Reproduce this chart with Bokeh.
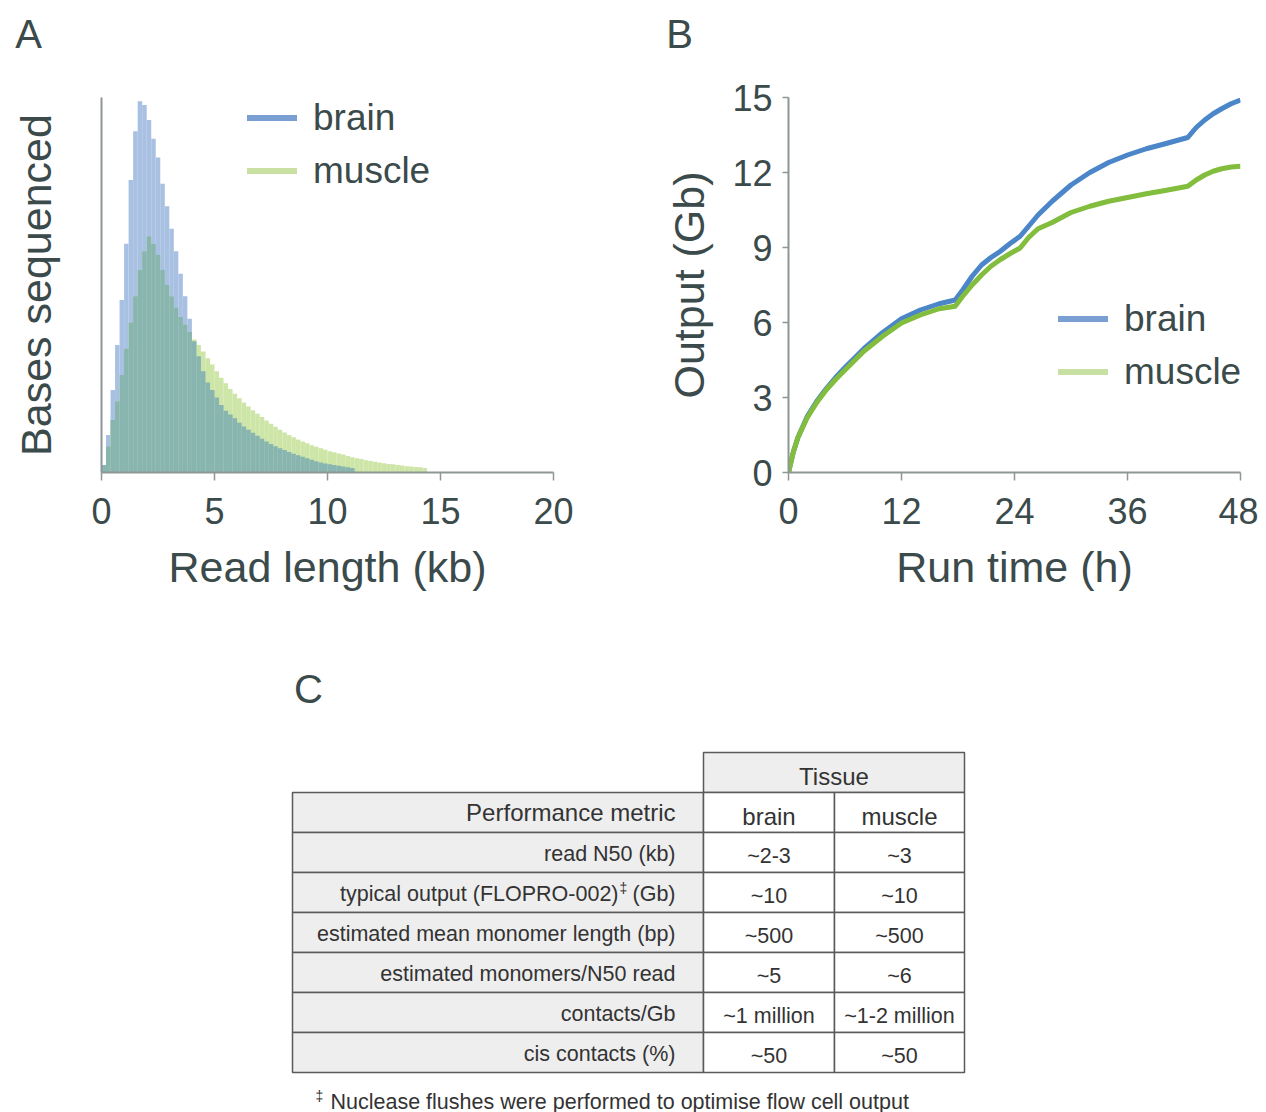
from bokeh.plotting import figure
from bokeh.models import Range1d, Legend, LegendItem, FixedTicker, ColumnDataSource
from bokeh.layouts import column, row
from bokeh.embed import file_html
from bokeh.resources import INLINE
from bokeh.core.properties import value

FONT = "Liberation Sans"
TXT = "#3b4a4a"
AXIS_GREY = "#8e9696"
NAN = float("nan")

# ---------------- Panel A: read length distribution (0.2 kb bins, relative bases) ----------------
read_length_kb = [
    0.1, 0.3, 0.5, 0.7, 0.9, 1.1, 1.3, 1.5, 1.7, 1.9,
    2.1, 2.3, 2.5, 2.7, 2.9, 3.1, 3.3, 3.5, 3.7, 3.9,
    4.1, 4.3, 4.5, 4.7, 4.9, 5.1, 5.3, 5.5, 5.7, 5.9,
    6.1, 6.3, 6.5, 6.7, 6.9, 7.1, 7.3, 7.5, 7.7, 7.9,
    8.1, 8.3, 8.5, 8.7, 8.9, 9.1, 9.3, 9.5, 9.7, 9.9,
    10.1, 10.3, 10.5, 10.7, 10.9, 11.1, 11.3, 11.5, 11.7, 11.9,
    12.1, 12.3, 12.5, 12.7, 12.9, 13.1, 13.3, 13.5, 13.7, 13.9,
    14.1, 14.3,
]
brain_bases = [
    2, 10, 22, 34, 46, 61, 78, 91, 99, 98,
    94, 89, 84, 77, 71, 65, 59, 53, 47, 41,
    35, 31, 27, 24, 22, 20, 18, 16.5, 15.5, 14.5,
    13.3, 12.3, 11.4, 10.6, 9.8, 9.0, 8.3, 7.6, 7.0, 6.5,
    6.0, 5.5, 5.0, 4.6, 4.2, 3.8, 3.4, 3.0, 2.7, 2.4,
    2.2, 2.0, 1.8, 1.6, 1.4, 1.2, 0, 0, 0, 0,
    0, 0, 0, 0, 0, 0, 0, 0, 0, 0,
    0, 0,
]
muscle_bases = [
    2, 7, 14, 19, 26, 33, 40, 47, 54, 59,
    63, 61, 58, 54, 50, 47, 44, 41.5, 39.5, 37.5,
    35.5, 34, 32.3, 30.5, 28.8, 27, 25.3, 23.8, 22.3, 21,
    19.8, 18.7, 17.6, 16.6, 15.7, 14.8, 13.9, 13.0, 12.2, 11.4,
    10.7, 10.0, 9.4, 8.8, 8.3, 7.8, 7.3, 6.9, 6.5, 6.1,
    5.7, 5.4, 5.1, 4.8, 4.4, 4.1, 3.8, 3.6, 3.3, 3.1,
    2.9, 2.7, 2.5, 2.3, 2.2, 2.0, 1.9, 1.7, 1.6, 1.5,
    1.4, 1.2,
]
read_ticks = [0, 5, 10, 15, 20]

# ---------------- Panel B: cumulative output ----------------
run_time_h = [0, 0.5, 1, 2, 3, 4, 5, 6, 8, 10, 12, 14, 16, 17.7, 18.5, 19.5, 20.5, 21.5,
              22.5, 23.5, 24.6, 25.5, 26.5, 28, 30, 32, 34, 36, 38, 40, 42.4, 43.3, 44.2,
              45.1, 46, 47, 48]
brain_output_gb = [0, 0.8, 1.4, 2.25, 2.85, 3.35, 3.8, 4.2, 4.95, 5.6, 6.15, 6.5, 6.75, 6.9,
                   7.3, 7.85, 8.3, 8.6, 8.85, 9.15, 9.45, 9.85, 10.3, 10.85, 11.5, 12.0, 12.4,
                   12.7, 12.95, 13.15, 13.4, 13.8, 14.1, 14.35, 14.55, 14.75, 14.9]
muscle_output_gb = [0, 0.8, 1.4, 2.2, 2.8, 3.3, 3.72, 4.1, 4.85, 5.45, 5.98, 6.3, 6.55, 6.65,
                    7.05, 7.5, 7.9, 8.25, 8.52, 8.75, 8.98, 9.4, 9.75, 10.0, 10.4, 10.65, 10.85,
                    11.0, 11.15, 11.28, 11.45, 11.7, 11.9, 12.05, 12.15, 12.22, 12.25]
time_ticks = [0, 12, 24, 36, 48]
output_ticks = [0, 3, 6, 9, 12, 15]

# ---------------- Panel C: table ----------------
panel_letters = ["A", "B", "C"]
tissues = ["brain", "muscle"]
metric_header = "Performance metric"
metrics = ["read N50 (kb)", "typical output (FLOPRO-002)", "estimated mean monomer length (bp)",
           "estimated monomers/N50 read", "contacts/Gb", "cis contacts (%)"]
brain_vals = ["~2-3", "~10", "~500", "~5", "~1 million", "~50"]
muscle_vals = ["~3", "~10", "~500", "~6", "~1-2 million", "~50"]
footnote = "Nuclease flushes were performed to optimise flow cell output"

BRAIN_FILL = "#a8c0e2"
MUSCLE_FILL = "#cde5a6"
OVERLAP_FILL = "#88b5af"
BRAIN_LINE = "#4a86c8"
MUSCLE_LINE = "#82bd3d"
BRAIN_LEG = "#7a9fd2"
MUSCLE_LEG = "#c8e1a2"

PAGE_W = 1258
HEAD_H = 60


def style_axis(ax, ticks, tick_out=8):
    ax.ticker = FixedTicker(ticks=ticks)
    ax.axis_line_color = AXIS_GREY
    ax.axis_line_width = 2
    ax.major_tick_line_color = AXIS_GREY
    ax.major_tick_line_width = 1.5
    ax.major_tick_in = 0
    ax.major_tick_out = tick_out
    ax.minor_tick_line_color = None
    ax.major_label_text_font = FONT
    ax.major_label_text_font_size = "36px"
    ax.major_label_text_color = TXT
    ax.axis_label_text_font = FONT
    ax.axis_label_text_font_size = "43px"
    ax.axis_label_text_font_style = "normal"
    ax.axis_label_text_color = TXT


def make_legend(p, loc):
    r1 = p.line(x=[NAN], y=[NAN], line_color=BRAIN_LEG, line_width=6, line_cap="round")
    r2 = p.line(x=[NAN], y=[NAN], line_color=MUSCLE_LEG, line_width=6, line_cap="round")
    leg = Legend(items=[LegendItem(label="brain", renderers=[r1]),
                        LegendItem(label="muscle", renderers=[r2])],
                 location=loc, glyph_width=50, glyph_height=43, label_standoff=16,
                 spacing=10, padding=0, margin=0, border_line_color=None,
                 background_fill_alpha=0, label_text_font=FONT,
                 label_text_font_size="37px", label_text_color=TXT)
    p.add_layout(leg)


def blank_canvas(w, h):
    p = figure(width=w, height=h, x_range=Range1d(0, w), y_range=Range1d(h, 0),
               output_backend="svg", toolbar_location=None, x_axis_type=None,
               y_axis_type=None, min_border=0)
    p.outline_line_color = None
    p.grid.visible = False
    return p


def txt(p, x, y, s, size, align="center", color="#333333"):
    p.text(x=[x], y=[y], text=[s], text_font=value(FONT), text_font_size=size,
           text_color=color, text_align=align, text_baseline="middle")


# ---------- header strip with panel letters A and B ----------
pH = blank_canvas(PAGE_W, HEAD_H)
txt(pH, 28, 33, panel_letters[0], "40px", color=TXT)
txt(pH, 679, 33, panel_letters[1], "40px", color=TXT)

# ---------- Figure A ----------
pA = figure(width=648, height=628 - HEAD_H, x_range=Range1d(0, 20), y_range=Range1d(0, 100),
            output_backend="svg", toolbar_location=None,
            min_border_left=101, min_border_right=95, min_border_top=97 - HEAD_H,
            min_border_bottom=155)
pA.outline_line_color = None
pA.grid.visible = False
overlap = [min(b, m) for b, m in zip(brain_bases, muscle_bases)]
srcA = ColumnDataSource(dict(x=read_length_kb, brain=brain_bases, muscle=muscle_bases, both=overlap))
pA.vbar(x="x", top="brain", width=0.2, source=srcA, fill_color=BRAIN_FILL, line_color=None)
pA.vbar(x="x", top="muscle", width=0.2, source=srcA, fill_color=MUSCLE_FILL, line_color=None)
pA.vbar(x="x", top="both", width=0.2, source=srcA, fill_color=OVERLAP_FILL, line_color=None)
style_axis(pA.xaxis[0], read_ticks)
style_axis(pA.yaxis[0], [], tick_out=0)
pA.xaxis.axis_label = "Read length (kb)"
pA.yaxis.axis_label = "Bases sequenced"
pA.xaxis.major_label_standoff = 17
pA.xaxis.axis_label_standoff = 16
pA.yaxis.axis_label_standoff = 42
make_legend(pA, (146, 280))

# ---------- Figure B ----------
pB = figure(width=610, height=628 - HEAD_H, x_range=Range1d(0, 48), y_range=Range1d(0, 15),
            output_backend="svg", toolbar_location=None,
            min_border_left=140, min_border_right=18, min_border_top=96 - HEAD_H,
            min_border_bottom=156)
pB.outline_line_color = None
pB.grid.visible = False
pB.line(run_time_h, brain_output_gb, line_color=BRAIN_LINE, line_width=5, line_join="round")
pB.line(run_time_h, muscle_output_gb, line_color=MUSCLE_LINE, line_width=5, line_join="round")
style_axis(pB.xaxis[0], time_ticks)
style_axis(pB.yaxis[0], output_ticks, tick_out=6)
pB.xaxis.axis_label = "Run time (h)"
pB.yaxis.axis_label = "Output (Gb)"
pB.xaxis.major_label_standoff = 17
pB.xaxis.axis_label_standoff = 16
pB.yaxis.major_label_standoff = 10
pB.yaxis.axis_label_standoff = 16
make_legend(pB, (270, 79))

# ---------- Figure C (table) ----------
H = 484
pC = blank_canvas(PAGE_W, H)

col_edges = [292, 703, 834, 964]
header_top = 124
row_h = 40
n_rows = len(metrics) + 1
GREY = "#eeeeee"
BORDER = "#5a5a5a"

lefts, rights, tops, bottoms, fills = [], [], [], [], []
lefts.append(col_edges[1]); rights.append(col_edges[3]); tops.append(header_top)
bottoms.append(header_top + row_h); fills.append(GREY)
for i in range(n_rows):
    t = header_top + row_h * (i + 1)
    for c in range(3):
        lefts.append(col_edges[c]); rights.append(col_edges[c + 1])
        tops.append(t); bottoms.append(t + row_h)
        fills.append(GREY if c == 0 else "white")
pC.quad(left=lefts, right=rights, top=tops, bottom=bottoms, fill_color=fills,
        line_color=BORDER, line_width=1.5)

xm = col_edges[1] - 28
xb = (col_edges[1] + col_edges[2]) / 2
xmu = (col_edges[2] + col_edges[3]) / 2

txt(pC, (col_edges[1] + col_edges[3]) / 2, header_top + row_h / 2 + 4, "Tissue", "24px")
y0 = header_top + row_h + row_h / 2
txt(pC, xm, y0, metric_header, "24px", "right")
txt(pC, xb, y0 + 4, tissues[0], "24px")
txt(pC, xmu, y0 + 4, tissues[1], "24px")

row_y = [header_top + row_h * (i + 2) + row_h / 2 + 1 for i in range(len(metrics))]
for i, (m, b, mu) in enumerate(zip(metrics, brain_vals, muscle_vals)):
    if m.startswith("typical output"):
        txt(pC, xm, row_y[i], "(Gb)", "21.5px", "right")
        txt(pC, xm - 52, row_y[i] - 6, "\u2021", "14px")
        txt(pC, xm - 57, row_y[i], m, "21.5px", "right")
    else:
        txt(pC, xm, row_y[i], m, "21.5px", "right")
    txt(pC, xb, row_y[i] + 2, b, "21.5px")
    txt(pC, xmu, row_y[i] + 2, mu, "21.5px")

txt(pC, 319, 467, "\u2021", "14px")
txt(pC, 330, 473, footnote, "21.5px", "left")
txt(pC, 308, 60, panel_letters[2], "40px", color=TXT)

layout = column(pH, row(pA, pB), pC)
open("out.html", "w").write(file_html(layout, INLINE))
